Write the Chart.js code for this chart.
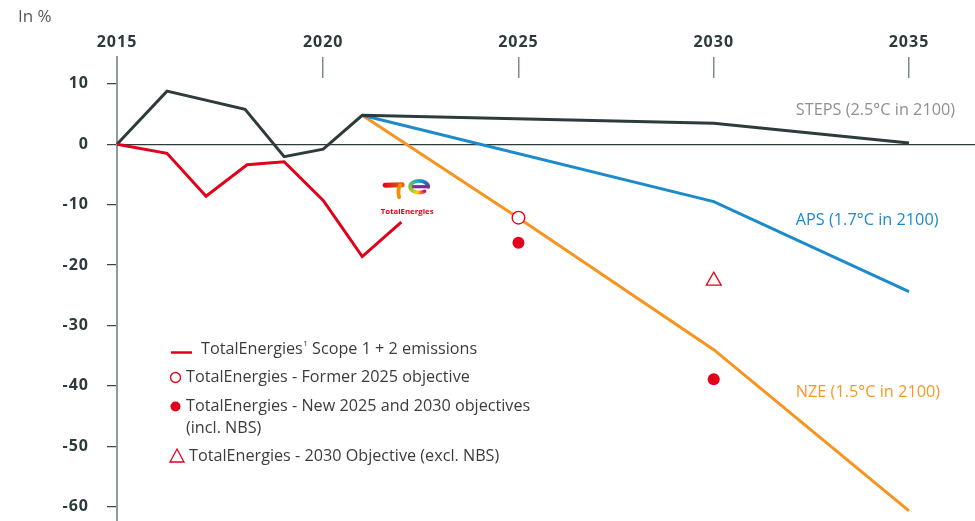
<!DOCTYPE html>
<html>
<head>
<meta charset="utf-8">
<script src="https://cdn.jsdelivr.net/npm/chart.js@4.4.1/dist/chart.umd.min.js"></script>
<style>
html,body{margin:0;padding:0;background:#ffffff;}
#wrap{width:975px;height:521px;position:relative;}
</style>
</head>
<body>
<div id="wrap"><canvas id="c" width="975" height="521"></canvas></div>
<script>
// ---------- data ----------
const axisYears = [2015, 2020, 2025, 2030, 2035];   // top axis tick labels
const originX = 2014.72;                             // the 2015 origin sits on the vertical axis
const xMax = 2036.69;
const yTicks = [10, 0, -10, -20, -30, -40, -50, -60];
const yMin = -62.37, yMax = 14.45;

const redYears  = [originX, 2016, 2017, 2018.05, 2019, 2020, 2021, 2022];
const redValues = [0, -1.5, -8.6, -3.4, -2.9, -9.3, -18.6, -12.9];

const stepsYears  = [originX, 2016, 2018, 2019, 2020, 2021, 2030, 2035];
const stepsValues = [0, 8.8, 5.8, -2.05, -0.8, 4.8, 3.5, 0.2];

const apsYears  = [2021, 2030, 2035];
const apsValues = [4.8, -9.5, -24.4];

const nzeYears  = [2021, 2025, 2030, 2035];
const nzeValues = [4.8, -12.2, -34.0, -60.7];

const formerYears  = [2025];
const formerValues = [-12.15];
const newYears  = [2025, 2030];
const newValues = [-16.3, -38.9];
const exclYears  = [2030];
const exclValues = [-22.6];

const seriesLabels = [
  {text: 'STEPS (2.5°C in 2100)', x: 2032.1, y: 5.68,  color: '#8e9091'},
  {text: 'APS (1.7°C in 2100)',   x: 2032.1, y: -12.65, color: '#1b8bcb'},
  {text: 'NZE (1.5°C in 2100)',   x: 2032.1, y: -41.0,  color: '#f59a28'}
];

const legendRows = [
  {kind: 'line',     parts: ['TotalEnergies', '1', ' Scope 1 + 2 emissions']},
  {kind: 'open',     parts: ['TotalEnergies - Former 2025 objective']},
  {kind: 'dot',      parts: ['TotalEnergies - New 2025 and 2030 objectives']},
  {kind: 'none',     parts: ['(incl. NBS)']},
  {kind: 'triangle', parts: ['TotalEnergies - 2030 Objective (excl. NBS)']}
];

const RED = '#e2001a', DARK = '#2e3b3d', BLUE = '#1b8bcb', ORANGE = '#f7941d';
const FONT = "'Open Sans', 'Liberation Sans', sans-serif";

const pts = (xs, ys) => xs.map((x, i) => ({x: x, y: ys[i]}));

// ---------- plugins ----------
const spacing = {
  id: 'spacing',
  beforeDraw(chart) { chart.ctx.letterSpacing = '1px'; },
  beforeDatasetsDraw(chart) { chart.ctx.letterSpacing = '0px'; }
};

const annot = {
  id: 'annot',
  afterDatasetsDraw(chart) {
    const ctx = chart.ctx, xs = chart.scales.x, ys = chart.scales.y, ca = chart.chartArea;
    ctx.save();
    ctx.letterSpacing = '0px';
    // unit label
    ctx.fillStyle = '#58595b';
    ctx.font = "17px " + FONT;
    ctx.textBaseline = 'middle';
    ctx.textAlign = 'left';
    ctx.fillText('In %', 18, 17);

    // series labels
    ctx.font = "16.3px " + FONT;
    seriesLabels.forEach(l => {
      ctx.fillStyle = l.color;
      ctx.fillText(l.text, xs.getPixelForValue(l.x), ys.getPixelForValue(l.y));
    });

    // legend
    const lx = ca.left + 54, rowY = [349, 377.5, 406.5, 428.5, 456.5];
    const LF = "16.2px " + FONT;
    legendRows.forEach((r, i) => {
      const y = rowY[i];
      let tx = lx + 15;
      ctx.strokeStyle = RED; ctx.fillStyle = RED;
      if (r.kind === 'line') {
        ctx.lineWidth = 2.5;
        ctx.beginPath(); ctx.moveTo(lx, y + 3.5); ctx.lineTo(lx + 21, y + 3.5); ctx.stroke();
        tx = lx + 30;
      } else if (r.kind === 'open') {
        ctx.lineWidth = 1.3;
        ctx.beginPath(); ctx.arc(lx + 4.5, y, 5, 0, Math.PI * 2); ctx.stroke();
      } else if (r.kind === 'dot') {
        ctx.beginPath(); ctx.arc(lx + 4.5, y, 5, 0, Math.PI * 2); ctx.fill();
      } else if (r.kind === 'triangle') {
        ctx.lineWidth = 1.3;
        ctx.beginPath();
        ctx.moveTo(lx + 6, y - 7.5); ctx.lineTo(lx + 13, y + 5.5); ctx.lineTo(lx - 1, y + 5.5); ctx.closePath();
        ctx.stroke();
        tx = lx + 18;
      }
      ctx.fillStyle = '#3c3c3b';
      ctx.textBaseline = 'middle';
      if (r.parts.length === 3) {
        ctx.font = LF;
        ctx.fillText(r.parts[0], tx, y);
        const w = ctx.measureText(r.parts[0]).width;
        ctx.font = "8px " + FONT;
        ctx.fillText(r.parts[1], tx + w + 0.5, y - 5);
        const w2 = ctx.measureText(r.parts[1]).width;
        ctx.font = LF;
        ctx.fillText(r.parts[2], tx + w + w2 + 0.5, y);
      } else {
        ctx.font = LF;
        ctx.fillText(r.parts[0], tx, y);
      }
    });

    // TotalEnergies logo
    const ax = xs.getPixelForValue(2022.15), ay = ys.getPixelForValue(-8.1);
    const g = ctx.createLinearGradient(ax - 24, 0, ax - 2, 0);
    g.addColorStop(0, '#e2001a'); g.addColorStop(1, '#f0641e');
    ctx.lineCap = 'round';
    ctx.strokeStyle = g; ctx.lineWidth = 5;
    ctx.beginPath(); ctx.moveTo(ax - 22, ay - 8); ctx.lineTo(ax - 5, ay - 8.5); ctx.stroke();
    ctx.strokeStyle = '#f39200'; ctx.lineWidth = 3.8;
    ctx.beginPath(); ctx.moveTo(ax - 7, ay - 8); ctx.quadraticCurveTo(ax - 10, ay - 2, ax - 8, ay + 4); ctx.stroke();
    const cx = ax + 12, cy = ay - 6.5;
    let cg;
    if (ctx.createConicGradient) {
      cg = ctx.createConicGradient(-Math.PI / 2, cx, cy);
      cg.addColorStop(0, '#00a3e0');
      cg.addColorStop(0.2, '#3a5fb0');
      cg.addColorStop(0.35, '#d4007a');
      cg.addColorStop(0.55, '#ffd100');
      cg.addColorStop(0.75, '#7dc243');
      cg.addColorStop(1, '#00a3e0');
    } else { cg = '#00a3e0'; }
    ctx.strokeStyle = cg; ctx.lineWidth = 3.8;
    ctx.beginPath(); ctx.ellipse(cx, cy, 9, 5.8, 0, 0, Math.PI * 0.3, true); ctx.stroke();
    ctx.strokeStyle = '#7a2d8c'; ctx.lineWidth = 3.2; ctx.lineCap = 'butt';
    ctx.beginPath(); ctx.moveTo(cx - 7, cy); ctx.lineTo(cx + 10.5, cy); ctx.stroke();
    ctx.fillStyle = RED;
    ctx.font = "bold 7.8px " + FONT;
    ctx.textAlign = 'center';
    ctx.fillText('TotalEnergies', ax, ay + 18.5);
    ctx.restore();
  }
};

new Chart(document.getElementById('c'), {
  type: 'scatter',
  data: {
    datasets: [
      {label: 'TotalEnergies - Former 2025 objective', data: pts(formerYears, formerValues),
        pointRadius: 6.3, pointBorderWidth: 1.4, pointBackgroundColor: '#ffffff', pointBorderColor: RED, showLine: false},
      {label: 'TotalEnergies - New 2025 and 2030 objectives (incl. NBS)', data: pts(newYears, newValues),
        pointRadius: 6, pointBorderWidth: 0, pointBackgroundColor: RED, pointBorderColor: RED, showLine: false},
      {label: 'TotalEnergies - 2030 Objective (excl. NBS)', data: pts(exclYears, exclValues),
        pointStyle: 'triangle', pointRadius: 8.6, pointBorderWidth: 1.3, pointBackgroundColor: 'rgba(255,255,255,0)', pointBorderColor: RED, showLine: false},
      {label: 'TotalEnergies Scope 1 + 2 emissions', data: pts(redYears, redValues),
        showLine: true, borderColor: RED, borderWidth: 3, pointRadius: 0, tension: 0},
      {label: 'STEPS (2.5°C in 2100)', data: pts(stepsYears, stepsValues),
        showLine: true, borderColor: DARK, borderWidth: 3, pointRadius: 0, tension: 0},
      {label: 'APS (1.7°C in 2100)', data: pts(apsYears, apsValues),
        showLine: true, borderColor: BLUE, borderWidth: 3, pointRadius: 0, tension: 0},
      {label: 'NZE (1.5°C in 2100)', data: pts(nzeYears, nzeValues),
        showLine: true, borderColor: ORANGE, borderWidth: 3, pointRadius: 0, tension: 0}
    ]
  },
  options: {
    responsive: false,
    animation: false,
    clip: false,
    layout: {padding: 0, autoPadding: false},
    plugins: {legend: {display: false}, tooltip: {enabled: false}, title: {display: false}},
    scales: {
      x: {
        type: 'linear',
        position: 'top',
        min: originX,
        max: xMax,
        afterBuildTicks: s => { s.ticks = axisYears.map(y => ({value: y === 2015 ? originX : y})); },
        afterFit: s => { s.height = 57; s.paddingLeft = 0; s.paddingRight = 0; },
        ticks: {
          callback: (v, i) => String(axisYears[i]),
          color: '#2d3a3c',
          font: {family: FONT, size: 16, weight: 'bold'},
          padding: 5,
          maxRotation: 0,
          autoSkip: false
        },
        grid: {drawTicks: false, drawOnChartArea: true, color: '#7e8b8c', lineWidth: 1.5},
        border: {display: false, dash: [21, 3000]}
      },
      y: {
        type: 'linear',
        min: yMin,
        max: yMax,
        afterBuildTicks: s => { s.ticks = yTicks.map(v => ({value: v})); },
        afterFit: s => { s.width = 117; s.paddingTop = 0; s.paddingBottom = 0; },
        ticks: {
          callback: v => String(v),
          color: '#2d3a3c',
          font: {family: FONT, size: 16, weight: 'bold'},
          padding: 4,
          autoSkip: false
        },
        grid: {
          drawTicks: true,
          tickLength: 24,
          tickBorderDash: [0, 14, 10, 100],
          tickColor: '#3b4749',
          tickWidth: 1.3,
          drawOnChartArea: true,
          color: c => (c.tick && c.tick.value === 0 ? '#2e3b3d' : 'rgba(0,0,0,0)'),
          lineWidth: 1.3
        },
        border: {display: true, color: '#8f9a9b', width: 2}
      }
    }
  },
  plugins: [spacing, annot]
});
</script>
</body>
</html>
